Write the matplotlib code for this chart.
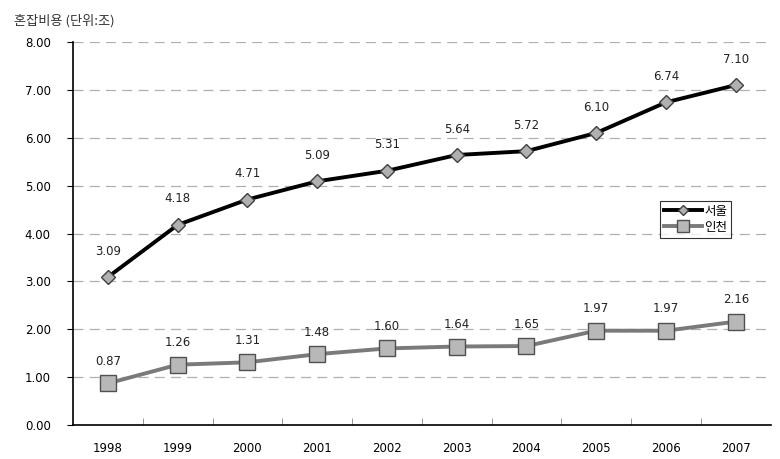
import matplotlib
matplotlib.use("Agg")
import matplotlib.pyplot as plt

plt.rcParams['font.family'] = ['DejaVu Sans', 'Noto Sans CJK KR']

years = ['1998', '1999', '2000', '2001', '2002', '2003', '2004', '2005', '2006', '2007']
seoul = [3.09, 4.18, 4.71, 5.09, 5.31, 5.64, 5.72, 6.10, 6.74, 7.10]
incheon = [0.87, 1.26, 1.31, 1.48, 1.60, 1.64, 1.65, 1.97, 1.97, 2.16]
yticks = [0, 1, 2, 3, 4, 5, 6, 7, 8]

fig = plt.figure(figsize=(7.8, 4.59), dpi=100)
ax = fig.add_axes([0.0936, 0.074, 0.8944, 0.8345])

x = list(range(len(years)))
ax.plot(x, seoul, color='black', lw=2.8, marker='D', ms=7,
        mfc='#b0b0b0', mec='#404040', mew=1, label='서울', zorder=3)
ax.plot(x, incheon, color='#7a7a7a', lw=2.8, marker='s', ms=11,
        mfc='#b8b8b8', mec='#505050', mew=1, label='인천', zorder=3)

for i in x:
    ax.annotate(f'{seoul[i]:.2f}', (i, seoul[i]), xytext=(0, 14),
                textcoords='offset points', ha='center', va='bottom', fontsize=8.5, color='#222222')
    ax.annotate(f'{incheon[i]:.2f}', (i, incheon[i]), xytext=(0, 11),
                textcoords='offset points', ha='center', va='bottom', fontsize=8.5, color='#222222')

ax.set_xlim(-0.5, len(years) - 0.5)
ax.set_ylim(0, 8)
ax.set_yticks(yticks)
ax.set_yticklabels([f'{v:.2f}' for v in yticks], fontsize=8.5)
ax.set_xticks(x)
ax.set_xticklabels(years, fontsize=8.5)
ax.tick_params(axis='x', length=0, pad=12)
ax.set_xticks([i + 0.5 for i in x[:-1]], minor=True)
ax.tick_params(axis='x', which='minor', direction='in', length=5, color='#888888')
ax.tick_params(axis='y', length=4, pad=12)

ax.yaxis.grid(True, linestyle=(0, (8, 5)), color='#b0b0b0', lw=0.9)
ax.set_axisbelow(True)
for s in ['top', 'right']:
    ax.spines[s].set_visible(False)
ax.spines['left'].set_linewidth(1.2)
ax.spines['bottom'].set_linewidth(1.2)

leg = ax.legend(loc='upper left', bbox_to_anchor=(0.842, 0.585),
                prop={'family': ['Noto Sans CJK KR'], 'size': 9}, markerscale=0.75,
                frameon=True, fancybox=False, edgecolor='black', handlelength=3,
                borderpad=0.3, labelspacing=0.25, handletextpad=0.2, borderaxespad=0)
leg.get_frame().set_linewidth(0.8)

fig.text(0.018, 0.955, '혼잡비용 (단위:조)', fontsize=9.5, ha='left', va='center',
         color='#333333', family=['Noto Sans CJK KR'])

fig.savefig('out.png', dpi=100)
